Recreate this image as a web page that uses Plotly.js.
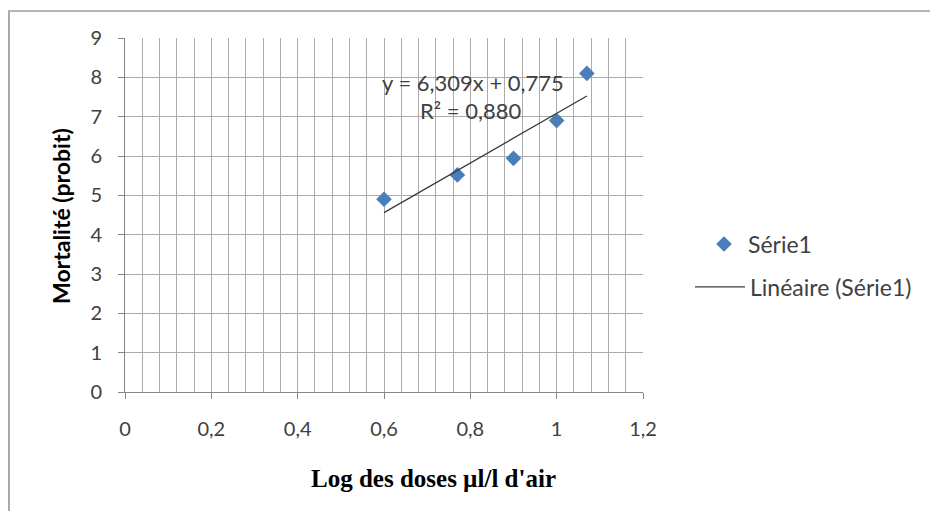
<!DOCTYPE html>
<html>
<head>
<meta charset="utf-8">
<script src="https://cdn.plot.ly/plotly-3.0.1.min.js"></script>
<style>
html,body{margin:0;padding:0;background:#fff;}
#wrap{position:relative;width:930px;height:511px;}
#chart{position:absolute;left:0;top:0;width:930px;height:511px;}
#frame{position:absolute;left:8px;top:10px;width:922px;height:501px;border-left:2px solid #a9a9a9;border-top:2px solid #b5b5b5;pointer-events:none;}
</style>
</head>
<body>
<div id="wrap"><div id="chart"></div><div id="frame"></div></div>
<script>
// Data
var logDose = [0.6, 0.77, 0.9, 1.0, 1.07];
var probit  = [4.9, 5.52, 5.94, 6.9, 8.1];
var slope = 6.309;
var intercept = 0.775;
var eqText = "y = 6,309x + 0,775";
var r2Text = "R² = 0,880";
var seriesName = "Série1";
var trendName = "Linéaire (Série1)";
var xTitle = "Log des doses µl/l d'air";
var yTitle = "Mortalité (probit)";
var xTickVals = [0, 0.2, 0.4, 0.6, 0.8, 1, 1.2];
var xTickText = ["0", "0,2", "0,4", "0,6", "0,8", "1", "1,2"];
var yTickVals = [0,1,2,3,4,5,6,7,8,9];

var xMin = Math.min.apply(null, logDose), xMax = Math.max.apply(null, logDose);
var trendX = [xMin, xMax];
var trendY = trendX.map(function(v){ return slope * v + intercept; });

var fam = "Lato, 'Open Sans', sans-serif";
var tickFont = {family: fam, size: 20, color: "#404040"};

var traces = [
  {x: logDose, y: probit, type: "scatter", mode: "markers", name: seriesName,
   marker: {symbol: "diamond", size: 12, color: "#4a7ebb", line: {width: 0}},
   legend: "legend", cliponaxis: false},
  {x: trendX, y: trendY, type: "scatter", mode: "lines", name: trendName,
   line: {color: "#3a3a3a", width: 1.3}, legend: "legend2"}
];

var gridC = "#ababab";
var layout = {
  width: 930, height: 511,
  margin: {l: 125, r: 287, t: 38, b: 119},
  paper_bgcolor: "rgba(0,0,0,0)", plot_bgcolor: "#fff",
  showlegend: true,
  xaxis: {range: [0, 1.2], tickmode: "array", tickvals: xTickVals, ticktext: xTickText,
    showgrid: true, gridcolor: gridC, gridwidth: 1, zeroline: false,
    showline: true, linecolor: "#868686", linewidth: 1,
    ticks: "outside", ticklen: 6, tickcolor: "#868686",
    ticklabelstandoff: 13, tickfont: tickFont,
    minor: {tickmode: "linear", tick0: 0, dtick: 0.04, showgrid: true, gridcolor: gridC, gridwidth: 1, ticks: ""},
    fixedrange: true},
  yaxis: {range: [0, 9], tickvals: yTickVals,
    showgrid: true, gridcolor: gridC, gridwidth: 1, zeroline: false,
    showline: true, linecolor: "#868686", linewidth: 1,
    ticks: "outside", ticklen: 6, tickcolor: "#868686",
    ticklabelstandoff: 12, tickfont: tickFont, fixedrange: true},
  legend: {x: (700 - 125) / 518, xanchor: "left", y: (392 - 244) / 354, yanchor: "middle",
    font: {family: fam, size: 23, color: "#404040"},
    bgcolor: "rgba(0,0,0,0)", itemwidth: 38},
  legend2: {x: (690 - 125) / 518, xanchor: "left", y: (392 - 287) / 354, yanchor: "middle",
    font: {family: fam, size: 23, color: "#404040"},
    bgcolor: "rgba(0,0,0,0)", itemwidth: 50},
  annotations: [
    {x: 0.806, y: 7.87, xref: "x", yref: "y", text: eqText, showarrow: false,
     xanchor: "center", yanchor: "middle",
     font: {family: fam, size: 22, color: "#404040"}},
    {x: 0.80, y: 7.16, xref: "x", yref: "y", text: r2Text, showarrow: false,
     xanchor: "center", yanchor: "middle",
     font: {family: fam, size: 22, color: "#404040"}},
    {x: (433 - 125) / 518, y: (392 - 478) / 354, xref: "paper", yref: "paper",
     xanchor: "center", yanchor: "middle",
     text: "<b>" + xTitle + "</b>", showarrow: false,
     font: {family: "'Liberation Serif', 'Times New Roman', serif", size: 25, color: "#000"}},
    {x: (61 - 125) / 518, y: (392 - 216) / 354, xref: "paper", yref: "paper",
     xanchor: "center", yanchor: "middle",
     text: "<b>" + yTitle + "</b>", showarrow: false, textangle: -90,
     font: {family: fam, size: 23, color: "#000"}}
  ]
};

Plotly.newPlot("chart", traces, layout, {displayModeBar: false, staticPlot: true});
</script>
</body>
</html>
